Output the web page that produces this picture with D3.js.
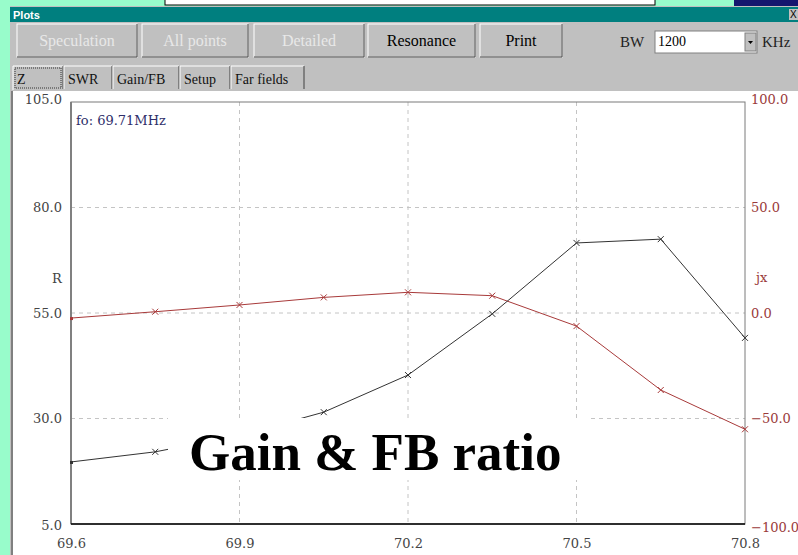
<!DOCTYPE html>
<html><head><meta charset="utf-8">
<script src="https://cdn.jsdelivr.net/npm/d3@7"></script>
<style>
body{margin:0;padding:0;background:#98FCCB;overflow:hidden;}
svg{display:block;font-family:"Liberation Serif","Times New Roman",serif;}
</style></head>
<body>
<script>
// ---- data ----
const freqs = [69.6, 69.75, 69.9, 70.05, 70.2, 70.35, 70.5, 70.65, 70.8];
const rValues = [19.7, 22.1, 26.0, 31.5, 40.3, 54.8, 71.6, 72.5, 49.1];
const jxValues = [-2.4, 0.6, 3.8, 7.4, 9.8, 8.2, -6.2, -36.5, -55.1];
const xTicks = [69.6, 69.9, 70.2, 70.5, 70.8];
const leftTicks = [5, 30, 55, 80, 105];
const rightTicks = [-100, -50, 0, 50, 100];
const buttons = ["Speculation", "All points", "Detailed", "Resonance", "Print"];
const tabs = ["Z", "SWR", "Gain/FB", "Setup", "Far fields"];

const W = 798, H = 555;
const svg = d3.select("body").append("svg").attr("width", W).attr("height", H);
const tickFont = "DejaVu Serif, serif";

// ---- window chrome ----
svg.append("rect").attr("x",0).attr("y",0).attr("width",W).attr("height",H).attr("fill","#98FCCB");
svg.append("rect").attr("x",165).attr("y",-2).attr("width",490).attr("height",7).attr("fill","#fff").attr("stroke","#000");
svg.append("rect").attr("x",734).attr("y",0).attr("width",64).attr("height",7).attr("fill","#14166e");
svg.append("rect").attr("x",10).attr("y",6).attr("width",W-10).attr("height",H-6).attr("fill","#c0c0c0");
svg.append("rect").attr("x",10).attr("y",7).attr("width",W-10).attr("height",15).attr("fill","#007f7f");
svg.append("text").attr("x",13).attr("y",19).attr("fill","#fff").attr("font-family","Liberation Sans, Arial, sans-serif")
  .attr("font-weight","bold").attr("font-size",11).text("Plots");
svg.append("rect").attr("x",789).attr("y",9).attr("width",9).attr("height",11).attr("fill","#c0c0c0");
svg.append("text").attr("x",790).attr("y",18).attr("font-size",10).attr("font-family","Liberation Sans, sans-serif").text("X");

const btnX = [17, 142, 254, 368, 480];
const btnW = [120, 106, 110, 107, 82];
buttons.forEach((b,i)=>{
  const g = svg.append("g");
  g.append("rect").attr("x",btnX[i]).attr("y",24).attr("width",btnW[i]).attr("height",33)
    .attr("fill","#c0c0c0").attr("stroke","#fff");
  g.append("path").attr("d",`M${btnX[i]+btnW[i]},24V57H${btnX[i]}`).attr("stroke","#404040").attr("fill","none");
  g.append("text").attr("x",btnX[i]+btnW[i]/2).attr("y",46).attr("text-anchor","middle")
    .attr("font-size",16).attr("fill", i<3 ? "#e8e8e8" : "#000").text(b);
});
svg.append("text").attr("x",620).attr("y",47).attr("font-size",15).attr("fill","#222").text("BW");
svg.append("rect").attr("x",655).attr("y",31).attr("width",102).attr("height",22).attr("fill","#fff").attr("stroke","#808080");
svg.append("text").attr("x",658).attr("y",46).attr("font-size",14).text("1200");
svg.append("rect").attr("x",745).attr("y",33).attr("width",11).attr("height",18).attr("fill","#c0c0c0").attr("stroke","#808080");
svg.append("path").attr("d","M748,41h5l-2.5,3z").attr("fill","#000");
svg.append("text").attr("x",762).attr("y",47).attr("font-size",15).attr("fill","#222").text("KHz");

const tabX = [13, 64, 113, 180, 231];
const tabW = [50, 48, 66, 50, 73];
tabs.forEach((t,i)=>{
  svg.append("path").attr("d",`M${tabX[i]},${i===0?90:89}V66H${tabX[i]+tabW[i]}`).attr("stroke","#fff").attr("fill","none");
  svg.append("path").attr("d",`M${tabX[i]+tabW[i]},66V89`).attr("stroke","#404040").attr("fill","none");
  svg.append("text").attr("x",tabX[i]+4).attr("y",84).attr("font-size",14).attr("fill","#111").text(t);
});
svg.append("rect").attr("x",15).attr("y",68).attr("width",46).attr("height",20).attr("fill","none")
  .attr("stroke","#333").attr("stroke-dasharray","1,1");

// chart panel
svg.append("rect").attr("x",12).attr("y",91).attr("width",W-12).attr("height",H-91).attr("fill","#fff");
svg.append("line").attr("x1",12).attr("x2",12).attr("y1",91).attr("y2",H).attr("stroke","#808080").attr("stroke-width",2);

// ---- scales ----
const x0 = 71, x1 = 745, yTop = 102, yBot = 524;
const x = d3.scaleLinear().domain([69.6, 70.8]).range([x0, x1]);
const yL = d3.scaleLinear().domain([5, 105]).range([yBot, yTop]);
const yR = d3.scaleLinear().domain([-100, 100]).range([yBot, yTop]);

// gridlines
const grid = svg.append("g").attr("stroke","#c4c4c4").attr("stroke-dasharray","4,4");
leftTicks.filter(v=>v>5 && v<105).forEach(v=>{
  grid.append("line").attr("x1",x0).attr("x2",x1).attr("y1",yL(v)).attr("y2",yL(v));
});
xTicks.filter(v=>v>69.6 && v<70.8).forEach(v=>{
  grid.append("line").attr("x1",x(v)).attr("x2",x(v)).attr("y1",yTop).attr("y2",yBot);
});

// axes
const fmt = d3.format(".1f");
const axL = svg.append("g").attr("transform",`translate(${x0 - 9},0)`)
  .call(d3.axisLeft(yL).tickValues(leftTicks).tickFormat(fmt).tickSize(0).tickPadding(0));
const axR = svg.append("g").attr("transform",`translate(${x1 + 6},0)`)
  .call(d3.axisRight(yR).tickValues(rightTicks).tickFormat(fmt).tickSize(0).tickPadding(0));
const axB = svg.append("g").attr("transform",`translate(0,${yBot + 12})`)
  .call(d3.axisBottom(x).tickValues(xTicks).tickFormat(fmt).tickSize(0).tickPadding(0));
[axL, axR, axB].forEach(a=>{ a.select(".domain").remove(); a.selectAll("text").attr("font-family",tickFont).attr("font-size",13); });
axL.selectAll("text").attr("fill","#444");
axB.selectAll("text").attr("fill","#444").attr("dy","0.9em");
axR.selectAll("text").attr("fill","#9a3a3a");
axL.selectAll(".tick").filter(d=>d===105).select("text").attr("dy","0.1em");
axR.selectAll(".tick").filter(d=>d===100).select("text").attr("dy","0.1em");
axL.selectAll(".tick").filter(d=>d===5).select("text").attr("dy","0.45em");
axR.selectAll(".tick").filter(d=>d===-100).select("text").attr("dy","0.55em");

svg.append("text").attr("x",57).attr("y",283).attr("font-family",tickFont).attr("font-size",13).attr("text-anchor","middle").attr("fill","#444").text("R");
svg.append("text").attr("x",756).attr("y",282).attr("font-family",tickFont).attr("font-size",13).attr("fill","#9a3a3a").text("jx");

// frame
svg.append("rect").attr("x",x0).attr("y",yTop).attr("width",x1-x0).attr("height",yBot-yTop)
  .attr("fill","none").attr("stroke","#7a7a7a").attr("stroke-width",1);
svg.append("line").attr("x1",x0).attr("x2",x0).attr("y1",yTop).attr("y2",yBot).attr("stroke","#808080").attr("stroke-width",2);
svg.append("line").attr("x1",x0).attr("x2",x1).attr("y1",yBot).attr("y2",yBot).attr("stroke","#000").attr("stroke-width",1.5);

svg.append("text").attr("x",76).attr("y",125).attr("font-family",tickFont).attr("font-size",13).attr("fill","#2e2e6a").text("fo: 69.71MHz");

// ---- series ----
function series(vals, yScale, color){
  const pts = freqs.map((f,i)=>[x(f), yScale(vals[i])]);
  svg.append("path").attr("d", d3.line()(pts)).attr("fill","none").attr("stroke",color).attr("stroke-width",1);
  pts.forEach((p,i)=>{
    if(i===0){
      svg.append("rect").attr("x",p[0]-1).attr("y",p[1]-1).attr("width",3).attr("height",3).attr("fill",color);
    } else {
      svg.append("path").attr("d",`M${p[0]-3},${p[1]-3}L${p[0]+3},${p[1]+3}M${p[0]-3},${p[1]+3}L${p[0]+3},${p[1]-3}`)
        .attr("stroke",color).attr("stroke-width",1);
    }
  });
}
series(jxValues, yR, "#a83a3a");
series(rValues, yL, "#333");

// ---- overlay caption ----
svg.append("rect").attr("x",168).attr("y",418).attr("width",419).attr("height",62).attr("fill","#fff");
svg.append("text").attr("x",189).attr("y",470).attr("font-size",53).attr("font-weight","bold")
  .attr("font-family","Liberation Serif, Times New Roman, serif").attr("fill","#000").text("Gain & FB ratio");
</script>
</body></html>
